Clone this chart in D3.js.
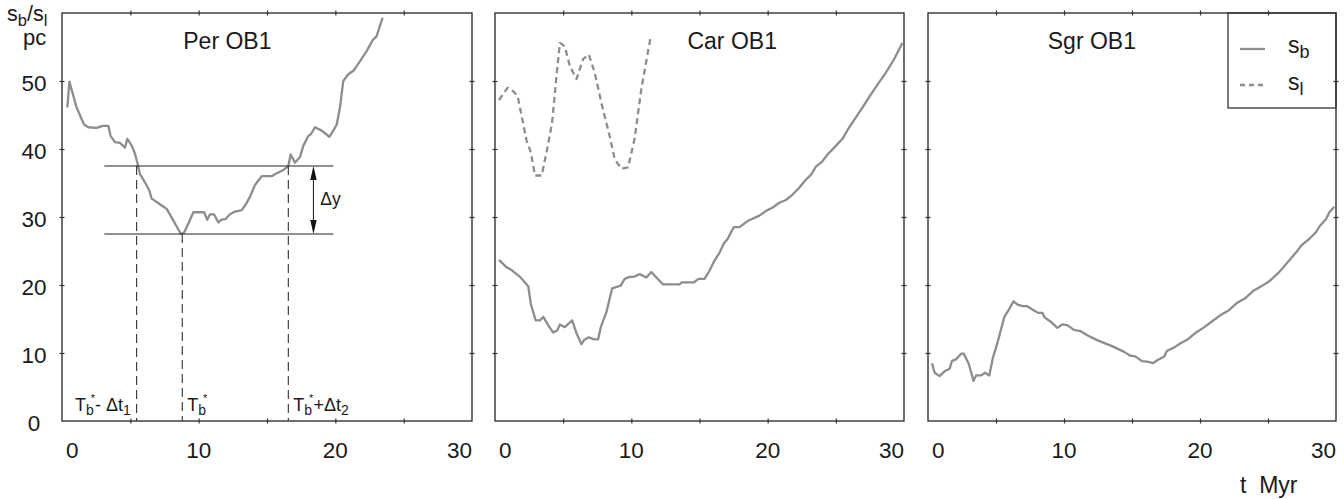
<!DOCTYPE html>
<html>
<head>
<meta charset="utf-8">
<script src="https://cdn.jsdelivr.net/npm/d3@7"></script>
<style>
  html, body { margin: 0; padding: 0; background: #fff; }
  svg { display: block; }
  text { font-family: "Liberation Sans", Arial, Helvetica, sans-serif; fill: #1a1a1a; }
</style>
</head>
<body>
<svg id="chart" width="1344" height="499"></svg>
<script>
// ---- data: boundary sizes s_b (solid) and s_l (dashed) in pc vs. time in Myr ----
const perOB1_sb = [[0.39,46.1],[0.54,49.9],[1.07,46.1],[1.61,43.6],[1.93,43.2],[2.54,43.1],[2.98,43.4],[3.39,43.4],[3.56,41.9],[3.88,41.0],[4.24,40.9],[4.61,40.2],[4.78,41.5],[5.10,40.5],[5.34,39.3],[5.51,38.0],[5.71,36.3],[6.07,35.1],[6.39,33.9],[6.56,32.7],[6.93,32.2],[7.29,31.7],[7.66,31.2],[8.14,29.5],[8.70,27.5],[8.93,27.7],[9.24,29.0],[9.61,30.7],[10.10,30.7],[10.40,30.7],[10.63,29.6],[10.83,30.4],[11.12,30.4],[11.44,29.2],[11.68,29.6],[11.97,29.7],[12.29,30.4],[12.66,30.8],[13.15,31.0],[13.46,31.9],[13.76,33.0],[14.12,34.7],[14.61,36.0],[15.34,36.0],[15.58,36.3],[16.19,36.9],[16.44,37.3],[16.56,37.5],[16.73,39.2],[17.05,38.0],[17.41,38.8],[17.66,40.5],[18.02,41.9],[18.22,42.2],[18.51,43.2],[19.00,42.7],[19.56,41.8],[19.85,42.7],[20.10,43.6],[20.34,46.1],[20.58,50.0],[20.95,51.0],[21.32,51.5],[21.80,52.9],[22.29,54.4],[22.73,56.0],[23.02,56.6],[23.46,59.3]];

const carOB1_sb = [[0.29,23.7],[0.85,22.6],[1.22,22.2],[1.83,21.2],[2.44,19.8],[2.63,17.2],[2.98,14.8],[3.29,14.8],[3.54,15.3],[3.90,14.1],[4.27,13.0],[4.56,13.3],[4.76,14.2],[5.12,13.8],[5.66,14.8],[5.98,12.9],[6.34,11.3],[6.53,11.9],[6.88,12.3],[7.27,12.0],[7.56,12.0],[7.76,13.8],[8.17,16.0],[8.59,19.5],[9.22,19.9],[9.51,20.9],[9.88,21.2],[10.20,21.2],[10.61,21.6],[11.10,21.1],[11.46,21.9],[12.31,20.1],[13.54,20.1],[13.70,20.4],[14.59,20.4],[14.93,20.9],[15.37,20.9],[15.73,22.1],[16.10,23.6],[16.46,24.7],[16.78,26.1],[17.07,26.8],[17.51,28.5],[17.93,28.5],[18.53,29.4],[19.39,30.2],[19.88,30.9],[20.37,31.4],[20.85,32.1],[21.34,32.5],[21.83,33.3],[22.32,34.3],[22.76,35.4],[23.17,36.2],[23.54,37.4],[23.98,38.1],[24.39,39.2],[24.88,40.2],[25.49,41.5],[25.98,43.2],[26.46,44.6],[26.95,46.1],[27.56,48.0],[28.17,49.8],[28.66,51.2],[29.27,53.2],[29.88,55.6]];

const carOB1_sl = [[0.29,47.2],[0.92,49.0],[1.34,48.5],[1.66,47.8],[1.95,44.9],[2.32,41.2],[2.63,39.5],[2.93,36.1],[3.42,36.1],[3.78,39.5],[4.19,43.9],[4.51,50.7],[4.76,55.6],[5.12,55.1],[5.49,52.2],[5.98,50.3],[6.46,53.2],[6.88,53.9],[7.32,51.2],[7.80,46.8],[8.41,41.9],[8.78,38.5],[9.27,37.1],[9.76,37.3],[10.24,41.5],[10.73,48.8],[11.41,56.4]];

const sgrOB1_sb = [[0.29,8.5],[0.49,7.1],[0.85,6.6],[1.22,7.3],[1.59,7.7],[1.76,8.8],[2.07,9.1],[2.44,9.9],[2.63,9.9],[2.98,8.5],[3.17,7.2],[3.34,5.9],[3.54,6.7],[3.90,6.7],[4.19,7.1],[4.51,6.7],[4.76,9.2],[5.12,11.6],[5.61,15.3],[5.98,16.5],[6.29,17.6],[6.59,17.1],[6.95,16.9],[7.27,16.9],[7.76,16.3],[8.10,15.9],[8.41,15.9],[8.59,15.2],[9.02,14.6],[9.51,13.7],[9.88,14.2],[10.24,14.1],[10.73,13.4],[11.22,13.2],[11.71,12.6],[12.32,12.0],[12.80,11.6],[13.66,10.9],[14.39,10.2],[14.88,9.6],[15.24,9.5],[15.73,8.8],[16.22,8.7],[16.54,8.5],[16.83,8.9],[17.37,9.5],[17.56,10.3],[18.17,10.9],[18.54,11.4],[19.02,11.9],[19.63,12.9],[20.24,13.7],[20.85,14.6],[21.46,15.5],[22.07,16.2],[22.68,17.3],[23.29,18.0],[23.90,19.1],[24.51,19.8],[25.12,20.6],[25.73,21.7],[26.46,23.4],[27.07,24.8],[27.44,25.8],[28.05,26.8],[28.54,27.8],[28.78,28.6],[29.27,29.7],[29.51,30.7],[29.88,31.5]];

const panelNames = ["Per OB1", "Car OB1", "Sgr OB1"];
const xTickLabels = [0, 10, 20, 30];
const xMinorTicks = [5, 10, 15, 20, 25];
const yTickLabels = [0, 10, 20, 30, 40, 50];
const yTicks = [10, 20, 30, 40, 50];

// Per OB1 construction: T_b*, the two crossing times and the two levels
const tbStar = 8.8;
const tbMinus = 5.46;
const tbPlus = 16.56;
const levelLow = 27.5;
const levelHigh = 37.5;

// ---- layout ----
const svg = d3.select("#chart");
const plotTop = 13, plotBottom = 421;
const axisColor = "#333";
const curveColor = "#8d8d8d";
const panels = [
  { left: 62,  right: 472, titleT: 12.1, series: [{ pts: perOB1_sb, dashed: false }] },
  { left: 495, right: 904, titleT: 17.4, series: [{ pts: carOB1_sb, dashed: false }, { pts: carOB1_sl, dashed: true }] },
  { left: 928, right: 1336, titleT: 12.05, series: [{ pts: sgrOB1_sb, dashed: false }] }
];

const y = d3.scaleLinear().domain([0, 60]).range([plotBottom, plotTop]);

// ---- legend box (drawn first so the frame ticks stay visible on top) ----
const lg = svg.append("g");
lg.append("rect").attr("x", 1228).attr("y", plotTop).attr("width", 108).attr("height", 95)
  .attr("fill", "none").attr("stroke", axisColor).attr("stroke-width", 1.3);
lg.append("line").attr("x1", 1240).attr("x2", 1265).attr("y1", 49).attr("y2", 49)
  .attr("stroke", curveColor).attr("stroke-width", 2.3);
lg.append("line").attr("x1", 1240).attr("x2", 1265).attr("y1", 85).attr("y2", 85)
  .attr("stroke", curveColor).attr("stroke-width", 2.3).attr("stroke-dasharray", "5,4");
const l1 = lg.append("text").attr("x", 1288).attr("y", 53).attr("font-size", 23);
l1.append("tspan").text("s");
l1.append("tspan").attr("dy", 5).attr("font-size", 18).text("b");
const l2 = lg.append("text").attr("x", 1288).attr("y", 90).attr("font-size", 23);
l2.append("tspan").text("s");
l2.append("tspan").attr("dy", 5).attr("font-size", 18).text("l");

panels.forEach((p, i) => {
  const x = d3.scaleLinear().domain([0, 30]).range([p.left, p.right]);
  p.x = x;
  const g = svg.append("g");

  // curves
  const line = d3.line().x(d => x(d[0])).y(d => y(d[1]));
  p.series.forEach(s => {
    g.append("path")
      .attr("d", line(s.pts))
      .attr("fill", "none")
      .attr("stroke", curveColor)
      .attr("stroke-width", 2.3)
      .attr("stroke-linejoin", "round")
      .attr("stroke-dasharray", s.dashed ? "6,4" : null);
  });

  // ticks that straddle the frame on all four sides
  const tk = 5;
  const styleAxis = sel => {
    sel.select(".domain").remove();
    sel.selectAll(".tick line").attr("stroke", axisColor).attr("stroke-width", 1.2);
    sel.selectAll(".tick text").remove();
  };
  g.append("g").attr("transform", `translate(0,${plotBottom - tk / 2})`)
    .call(d3.axisBottom(x).tickValues(xMinorTicks).tickSize(tk).tickFormat("")).call(styleAxis);
  g.append("g").attr("transform", `translate(0,${plotTop - tk / 2})`)
    .call(d3.axisBottom(x).tickValues(xMinorTicks).tickSize(tk).tickFormat("")).call(styleAxis);
  g.append("g").attr("transform", `translate(${p.left - tk / 2},0)`)
    .call(d3.axisRight(y).tickValues(yTicks).tickSize(tk).tickFormat("")).call(styleAxis);
  g.append("g").attr("transform", `translate(${p.right - tk / 2},0)`)
    .call(d3.axisRight(y).tickValues(yTicks).tickSize(tk).tickFormat("")).call(styleAxis);

  // frame
  g.append("rect")
    .attr("x", p.left).attr("y", plotTop)
    .attr("width", p.right - p.left).attr("height", plotBottom - plotTop)
    .attr("fill", "none").attr("stroke", axisColor).attr("stroke-width", 1.4);

  // x tick labels (end labels pulled inside the frame)
  xTickLabels.forEach(v => {
    const first = v === xTickLabels[0], last = v === xTickLabels[xTickLabels.length - 1];
    g.append("text")
      .attr("x", first ? x(v) + 4 : x(v))
      .attr("y", 458)
      .attr("text-anchor", first ? "start" : last ? "end" : "middle")
      .attr("font-size", 22.5)
      .text(v);
  });

  // title
  g.append("text")
    .attr("x", x(p.titleT)).attr("y", 49)
    .attr("text-anchor", "middle")
    .attr("font-size", 23)
    .text(panelNames[i]);
});

// y tick labels on the first panel
yTickLabels.forEach(v => {
  svg.append("text")
    .attr("x", 34).attr("y", y(v) + 2)
    .attr("dy", "0.36em")
    .attr("text-anchor", "middle")
    .attr("font-size", 22.5)
    .text(v);
});

// y-axis title
const yt = svg.append("text").attr("x", 7).attr("y", 21).attr("font-size", 21.5);
yt.append("tspan").text("s");
yt.append("tspan").attr("dy", 5).attr("font-size", 16.5).text("b");
yt.append("tspan").attr("dy", -5).text("/s");
yt.append("tspan").attr("dy", 5).attr("font-size", 16.5).text("l");
svg.append("text").attr("x", 23).attr("y", 45).attr("font-size", 22).text("pc");

// x-axis title
svg.append("text").attr("x", 1240).attr("y", 493).attr("font-size", 23)
  .attr("xml:space", "preserve").text("t  Myr");

// ---- Per OB1 construction ----
const px = panels[0].x;
const ann = svg.append("g");
ann.append("line")
  .attr("x1", px(3.1)).attr("x2", px(19.85))
  .attr("y1", y(levelHigh)).attr("y2", y(levelHigh))
  .attr("stroke", "#222").attr("stroke-width", 1.1);
ann.append("line")
  .attr("x1", px(3.1)).attr("x2", px(19.85))
  .attr("y1", y(levelLow)).attr("y2", y(levelLow))
  .attr("stroke", "#222").attr("stroke-width", 1.1);

[[tbMinus, levelHigh], [tbStar, levelLow], [tbPlus, levelHigh]].forEach(([t, lv]) => {
  ann.append("line")
    .attr("x1", px(t)).attr("x2", px(t))
    .attr("y1", y(lv)).attr("y2", y(0))
    .attr("stroke", "#333").attr("stroke-width", 1.1)
    .attr("stroke-dasharray", "9,5");
});

// double-headed arrow marking Δy
const ax = px(18.4), ay1 = y(levelHigh), ay2 = y(levelLow);
const headL = 14, headW = 3.2;
ann.append("line").attr("x1", ax).attr("x2", ax)
  .attr("y1", ay1 + headL - 1).attr("y2", ay2 - headL + 1)
  .attr("stroke", "#222").attr("stroke-width", 1.1);
ann.append("path")
  .attr("d", `M${ax},${ay1} L${ax - headW},${ay1 + headL} L${ax + headW},${ay1 + headL} Z`)
  .attr("fill", "#111");
ann.append("path")
  .attr("d", `M${ax},${ay2} L${ax - headW},${ay2 - headL} L${ax + headW},${ay2 - headL} Z`)
  .attr("fill", "#111");
ann.append("text").attr("x", px(18.9)).attr("y", 205).attr("font-size", 17.5).text("Δy");

// labels of the three marked times
function timeLabel(xPos, tail, sub) {
  const t = ann.append("text").attr("x", xPos).attr("y", 411).attr("font-size", 18);
  t.append("tspan").text("T");
  t.append("tspan").attr("dy", 4).attr("font-size", 14).text("b");
  t.append("tspan").attr("dx", -3).attr("dy", -13).attr("font-size", 11).text("*");
  if (tail) {
    t.append("tspan").attr("dy", 9).attr("xml:space", "preserve").text(tail);
    t.append("tspan").attr("dy", 4).attr("font-size", 14).text(sub);
  }
}
timeLabel(75, "- Δt", "1");
timeLabel(px(tbStar) + 5, null, null);
timeLabel(px(tbPlus) + 5, "+Δt", "2");
</script>
</body>
</html>
